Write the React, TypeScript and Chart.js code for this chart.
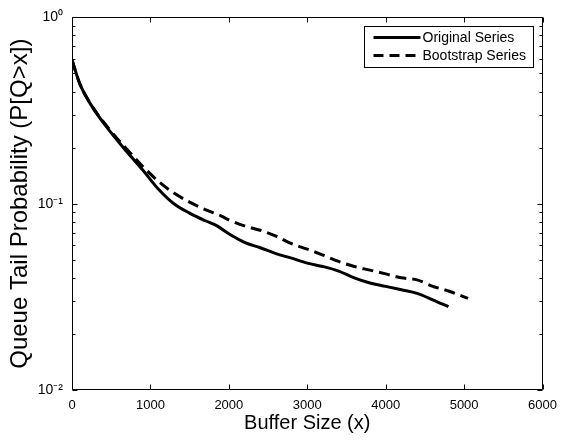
import { useEffect, useRef } from 'react';
import { Chart, registerables } from 'chart.js';

Chart.register(...registerables);

const FONT = '"Liberation Sans", Arial, Helvetica, sans-serif';

const xOriginal = [0, 100, 250, 500, 700, 900, 1100, 1300, 1500, 1700, 1850, 2000, 2200, 2400, 2600, 2800, 3000, 3200, 3400, 3600, 3800, 4000, 4200, 4400, 4600, 4800];
const yOriginal = [0.59, 0.44, 0.335, 0.24, 0.19, 0.152, 0.12, 0.1, 0.089, 0.081, 0.076, 0.069, 0.062, 0.058, 0.054, 0.051, 0.048, 0.046, 0.0435, 0.040, 0.0375, 0.036, 0.0345, 0.033, 0.0305, 0.028];

const xBootstrap = [0, 100, 250, 500, 700, 900, 1100, 1300, 1500, 1700, 1900, 2000, 2200, 2400, 2600, 2800, 3000, 3200, 3400, 3600, 3800, 4000, 4200, 4400, 4600, 4800, 5050];
const yBootstrap = [0.59, 0.44, 0.337, 0.244, 0.196, 0.159, 0.132, 0.114, 0.102, 0.093, 0.086, 0.082, 0.076, 0.072, 0.067, 0.061, 0.057, 0.053, 0.049, 0.046, 0.044, 0.042, 0.040, 0.039, 0.036, 0.034, 0.031];

const xTickValues = [0, 1000, 2000, 3000, 4000, 5000, 6000];
const xTickLabels = ['0', '1000', '2000', '3000', '4000', '5000', '6000'];
const yTickValues = [0.01, 0.1, 1];
const yTickLabels = ['10\u207B\u00B2', '10\u207B\u00B9', '10\u2070'];
const seriesNames = ['Original Series', 'Bootstrap Series'];

const framePlugin = {
  id: 'frame',
  afterDraw(chart: any) {
    const { ctx, chartArea, scales } = chart;
    const { left, right, top, bottom } = chartArea;
    const x = scales.x;
    const y = scales.y;
    const L = Math.round(left) + 0.5;
    const R = Math.round(right) - 0.5;
    const T = Math.round(top) + 0.5;
    const B = Math.round(bottom) - 0.5;
    ctx.save();
    ctx.strokeStyle = '#000';
    ctx.lineWidth = 1;
    ctx.beginPath();
    ctx.rect(L, T, R - L, B - T);
    ctx.stroke();
    ctx.beginPath();
    for (const v of xTickValues) {
      const px = Math.round(x.getPixelForValue(v)) + 0.5;
      ctx.moveTo(px, B); ctx.lineTo(px, B - 5);
      ctx.moveTo(px, T); ctx.lineTo(px, T + 5);
    }
    for (const v of yTickValues) {
      const py = Math.round(y.getPixelForValue(v)) + 0.5;
      ctx.moveTo(L, py); ctx.lineTo(L + 5, py);
      ctx.moveTo(R, py); ctx.lineTo(R - 5, py);
    }
    for (let d = 0; d < yTickValues.length - 1; d++) {
      for (let m = 2; m <= 9; m++) {
        const py = Math.round(y.getPixelForValue(yTickValues[d] * m)) + 0.5;
        ctx.moveTo(L, py); ctx.lineTo(L + 3, py);
        ctx.moveTo(R, py); ctx.lineTo(R - 3, py);
      }
    }
    ctx.stroke();

    // legend
    const bw = 169, bh = 41;
    const bx = Math.round(right) - 10 - bw + 0.5;
    const by = Math.round(top) + 9 + 0.5;
    ctx.fillStyle = '#fff';
    ctx.fillRect(bx, by, bw, bh);
    ctx.strokeRect(bx, by, bw, bh);
    ctx.font = `14px ${FONT}`;
    ctx.fillStyle = '#000';
    ctx.textBaseline = 'middle';
    ctx.textAlign = 'left';
    const rows = [by + 11, by + 29];
    chart.data.datasets.forEach((ds: any, i: number) => {
      ctx.save();
      ctx.lineWidth = 3;
      ctx.lineCap = 'butt';
      ctx.setLineDash(i === 1 ? [10, 6] : []);
      ctx.beginPath();
      ctx.moveTo(bx + 9, rows[i]);
      ctx.lineTo(bx + 56, rows[i]);
      ctx.stroke();
      ctx.restore();
      ctx.fillText(seriesNames[i], bx + 58, rows[i] + 1);
    });
    ctx.restore();
  },
};

export default function App() {
  const ref = useRef<HTMLCanvasElement>(null);
  useEffect(() => {
    const chart = new Chart(ref.current as HTMLCanvasElement, {
      type: 'scatter',
      data: {
        datasets: [
          {
            label: seriesNames[0],
            data: xOriginal.map((v, i) => ({ x: v, y: yOriginal[i] })),
            showLine: true,
            borderColor: '#000',
            borderWidth: 3,
            pointRadius: 0,
            borderJoinStyle: 'round',
            cubicInterpolationMode: 'monotone',
          },
          {
            label: seriesNames[1],
            data: xBootstrap.map((v, i) => ({ x: v, y: yBootstrap[i] })),
            showLine: true,
            borderColor: '#000',
            borderWidth: 3,
            borderDash: [11, 6],
            pointRadius: 0,
            cubicInterpolationMode: 'monotone',
          },
        ],
      },
      options: {
        responsive: false,
        animation: false,
        devicePixelRatio: 1,
        layout: { padding: { left: 0, right: 18, top: 15, bottom: 0 } },
        plugins: { legend: { display: false }, tooltip: { enabled: false } },
        scales: {
          x: {
            type: 'linear',
            min: 0,
            max: 6000,
            grid: { display: false, drawTicks: false },
            border: { display: false },
            afterBuildTicks: (s: any) => { s.ticks = xTickValues.map((v) => ({ value: v })); },
            ticks: {
              color: '#000',
              font: { size: 13, family: FONT },
              padding: 8,
              maxRotation: 0,
              callback: (v: any) => {
                const i = xTickValues.indexOf(Number(v));
                return i >= 0 ? xTickLabels[i] : '';
              },
            },
            title: { display: true, text: 'Buffer Size (x)', color: '#000', font: { size: 20, family: FONT }, padding: { top: 0, bottom: 5 } },
            afterFit: (s: any) => { s.height = 50; },
          },
          y: {
            type: 'logarithmic',
            min: 0.01,
            max: 1,
            grid: { display: false, drawTicks: false },
            border: { display: false },
            afterBuildTicks: (s: any) => { s.ticks = yTickValues.map((v) => ({ value: v })); },
            ticks: {
              color: '#000',
              font: { size: 14, family: FONT },
              padding: 9,
              callback: (v: any) => {
                const i = yTickValues.indexOf(Number(v));
                return i >= 0 ? yTickLabels[i] : '';
              },
            },
            title: { display: true, text: 'Queue Tail Probability (P[Q>x])', color: '#000', font: { size: 24, family: FONT }, padding: { top: 6, bottom: 0 } },
            afterFit: (s: any) => { s.width = 72; },
          },
        },
      },
      plugins: [framePlugin],
    } as any);
    return () => chart.destroy();
  }, []);
  return (
    <div style={{ position: 'absolute', left: 0, top: 0, width: 565, height: 440, background: '#fff' }}>
      <canvas ref={ref} width={565} height={440} style={{ display: 'block' }} />
    </div>
  );
}
